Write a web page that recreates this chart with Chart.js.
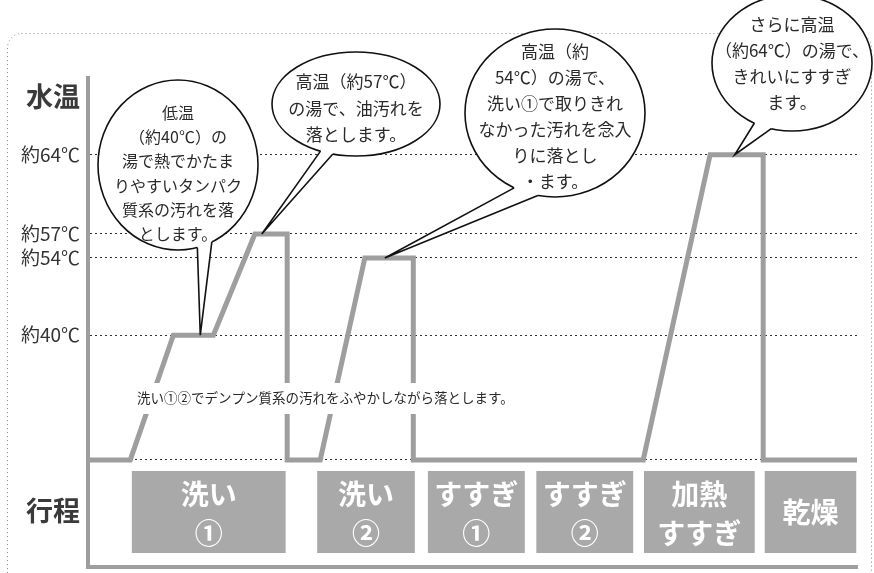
<!DOCTYPE html>
<html lang="ja">
<head>
<meta charset="utf-8">
<title>水温と行程</title>
<script src="https://cdn.jsdelivr.net/npm/chart.js@4.4.1/dist/chart.umd.min.js"></script>
<style>
  html, body { margin: 0; padding: 0; background: #fff; }
  canvas { display: block; }
</style>
</head>
<body>
<canvas id="mychart" width="874" height="573"></canvas>
<script>
var FONT = '"Noto Sans CJK JP", "Noto Sans", sans-serif';

// 経過時間（相対値）と水温
var times = [0, 5.5, 11.1, 16.3, 21.7, 25.9, 25.9, 30.2, 36.0, 42.3, 42.3, 72.2, 80.9, 87.8, 87.8, 100];
var temps = [20, 20, 40, 40, 57, 57, 20, 20, 54, 54, 20, 20, 64, 64, 20, 20];

var tempTicks = [20, 40, 54, 57, 64];
var tempLabels = ['', '約40℃', '約54℃', '約57℃', '約64℃'];

// 行程
var steps = [['洗い', '①'], ['洗い', '②'], ['すすぎ', '①'], ['すすぎ', '②'], ['加熱', 'すすぎ'], ['乾燥']];
var stepStart = [5.7, 29.8, 44.2, 58.3, 72.3, 88.0];
var stepEnd = [25.7, 42.5, 56.8, 70.9, 86.7, 99.9];

// 吹き出し
var noteText = [
  ['低温', '（約40℃）の', '湯で熱でかたま', 'りやすいタンパク', '質系の汚れを落', 'とします。'],
  ['高温（約57℃）', 'の湯で、油汚れを', '落とします。'],
  ['高温（約', '54℃）の湯で、', '洗い①で取りきれ', 'なかった汚れを念入', 'りに落とし', '・ます。'],
  ['さらに高温', '（約64℃）の湯で、', 'きれいにすすぎ', 'ます。']
];
var noteTime = [14.6, 22.6, 38.6, 84.1];
var noteTemp = [40, 57, 54, 64];
var starchNote = '洗い①②でデンプン質系の汚れをふやかしながら落とします。';

// 模式図なので縦軸は区間ごとに目盛り幅が違う
var stopVal = [0, 20, 40, 54, 57, 64, 72];
var stopPos = [0, 0.219, 0.474, 0.632, 0.681, 0.843, 1];

function toDecimal(v) {
  for (var i = 1; i < stopVal.length; i++) {
    if (v <= stopVal[i] || i === stopVal.length - 1) {
      var t = (v - stopVal[i - 1]) / (stopVal[i] - stopVal[i - 1]);
      return stopPos[i - 1] + t * (stopPos[i] - stopPos[i - 1]);
    }
  }
}
function fromDecimal(d) {
  for (var i = 1; i < stopPos.length; i++) {
    if (d <= stopPos[i] || i === stopPos.length - 1) {
      var t = (d - stopPos[i - 1]) / (stopPos[i] - stopPos[i - 1]);
      return stopVal[i - 1] + t * (stopVal[i] - stopVal[i - 1]);
    }
  }
}

class StepScale extends Chart.LinearScale {
  getPixelForValue(value) {
    if (value === null || isNaN(value)) return NaN;
    return this.getPixelForDecimal(toDecimal(value));
  }
  getValueForPixel(pixel) {
    return fromDecimal(this.getDecimalForPixel(pixel));
  }
}
StepScale.id = 'steps';
StepScale.defaults = {};
Chart.register(StepScale);

Chart.defaults.font.family = FONT;

var bubbles = [
  {cx: 178, cy: 165, rx: 80, ry: 85, a1: 76, a2: 65, ty: 113, lh: 24.2, size: 16},
  {cx: 356, cy: 104, rx: 84, ry: 52, a1: 115, a2: 106, ty: 82, lh: 26.5, size: 17},
  {cx: 555, cy: 113, rx: 90, ry: 84, a1: 117, a2: 101, ty: 52, lh: 26, size: 17},
  {cx: 792, cy: 63, rx: 80, ry: 68, a1: 118, a2: 105, ty: 25, lh: 26, size: 17}
];

function drawBubble(ctx, b, lines, tip) {
  var a1 = b.a1 * Math.PI / 180, a2 = b.a2 * Math.PI / 180;
  var p1 = {x: b.cx + b.rx * Math.cos(a1), y: b.cy + b.ry * Math.sin(a1)};
  var p2 = {x: b.cx + b.rx * Math.cos(a2), y: b.cy + b.ry * Math.sin(a2)};
  var q1 = {x: b.cx + (b.rx - 5) * Math.cos(a1), y: b.cy + (b.ry - 5) * Math.sin(a1)};
  var q2 = {x: b.cx + (b.rx - 5) * Math.cos(a2), y: b.cy + (b.ry - 5) * Math.sin(a2)};
  ctx.save();
  ctx.fillStyle = '#fff';
  ctx.strokeStyle = '#111';
  ctx.lineWidth = 1.6;
  ctx.beginPath();
  ctx.ellipse(b.cx, b.cy, b.rx, b.ry, 0, 0, Math.PI * 2);
  ctx.fill();
  ctx.stroke();
  ctx.beginPath();
  ctx.moveTo(q1.x, q1.y);
  ctx.lineTo(p1.x, p1.y);
  ctx.lineTo(tip.x, tip.y);
  ctx.lineTo(p2.x, p2.y);
  ctx.lineTo(q2.x, q2.y);
  ctx.closePath();
  ctx.fill();
  ctx.beginPath();
  ctx.moveTo(p1.x, p1.y);
  ctx.lineTo(tip.x, tip.y);
  ctx.lineTo(p2.x, p2.y);
  ctx.stroke();
  ctx.fillStyle = '#2a2a2a';
  ctx.font = b.size + 'px ' + FONT;
  ctx.textAlign = 'center';
  ctx.textBaseline = 'middle';
  lines.forEach(function(t, i) {
    ctx.fillText(t, b.cx, b.ty + i * b.lh);
  });
  ctx.restore();
}

var decor = {
  id: 'decor',
  beforeDraw: function(chart) {
    var ctx = chart.ctx;
    ctx.save();
    ctx.strokeStyle = '#8a8a8a';
    ctx.lineWidth = 1;
    ctx.setLineDash([1, 3]);
    ctx.beginPath();
    ctx.roundRect(7.5, 33.5, 864, 600, 14);
    ctx.stroke();
    ctx.restore();
  },
  afterDraw: function(chart) {
    var ctx = chart.ctx, xs = chart.scales.x, ys = chart.scales.y;

    // 行程の箱
    ctx.save();
    steps.forEach(function(lines, i) {
      var x1 = xs.getPixelForValue(stepStart[i]), x2 = xs.getPixelForValue(stepEnd[i]);
      ctx.fillStyle = '#a9a9a9';
      ctx.fillRect(x1, 471, x2 - x1, 82);
      ctx.fillStyle = '#fff';
      ctx.font = 'bold 28px ' + FONT;
      ctx.textAlign = 'center';
      ctx.textBaseline = 'middle';
      var cx = (x1 + x2) / 2;
      if (lines.length === 1) {
        ctx.fillText(lines[0], cx, 512);
      } else {
        ctx.fillText(lines[0], cx, 494);
        ctx.fillText(lines[1], cx, 533);
      }
    });

    // デンプン質系の説明
    ctx.font = '13.5px ' + FONT;
    var w = ctx.measureText(starchNote).width;
    ctx.fillStyle = '#fff';
    ctx.fillRect(133, 383, w + 8, 31);
    ctx.fillStyle = '#2a2a2a';
    ctx.textAlign = 'left';
    ctx.textBaseline = 'middle';
    ctx.fillText(starchNote, 137, 398);

    // 軸見出し
    ctx.fillStyle = '#3a3a3a';
    ctx.font = 'bold 27px ' + FONT;
    ctx.textAlign = 'center';
    ctx.fillText('水温', 53, 97);
    ctx.fillText('行程', 53, 511);
    ctx.restore();

    bubbles.forEach(function(b, i) {
      var tip = {x: xs.getPixelForValue(noteTime[i]), y: ys.getPixelForValue(noteTemp[i])};
      drawBubble(ctx, b, noteText[i], tip);
    });
  }
};

var myChart = document.getElementById('mychart').getContext('2d');

var chart = new Chart(myChart, {
  type: 'line',
  data: {
    datasets: [{
      label: '水温',
      data: times.map(function(t, i) { return {x: t, y: temps[i]}; }),
      borderColor: '#9e9e9e',
      borderWidth: 5,
      borderJoinStyle: 'miter',
      pointRadius: 0,
      tension: 0,
      fill: false
    }]
  },
  options: {
    responsive: false,
    animation: false,
    devicePixelRatio: 1,
    events: [],
    layout: { padding: { top: 78, right: 17, bottom: 6, left: 0 } },
    plugins: { legend: { display: false }, tooltip: { enabled: false } },
    scales: {
      x: {
        type: 'linear',
        min: 0,
        max: 100,
        afterFit: function(s) {
          s.height = 0;
          s.paddingLeft = 0;
          s.paddingRight = 0;
        },
        ticks: { display: false },
        grid: { display: false, drawTicks: false },
        border: { color: '#9e9e9e', width: 4 }
      },
      y: {
        type: 'steps',
        min: 0,
        max: 72,
        afterBuildTicks: function(s) {
          s.ticks = tempTicks.map(function(v) { return {value: v}; });
        },
        afterFit: function(s) {
          s.width = 88;
          s.paddingTop = 0;
          s.paddingBottom = 0;
        },
        ticks: {
          autoSkip: false,
          padding: 8,
          color: '#333',
          font: { size: 19 },
          callback: function(v, i) { return tempLabels[i]; }
        },
        grid: { color: '#333', lineWidth: 1, drawTicks: false },
        border: { color: '#9e9e9e', width: 4, dash: [2, 3] }
      }
    }
  },
  plugins: [decor]
});
</script>
</body>
</html>
